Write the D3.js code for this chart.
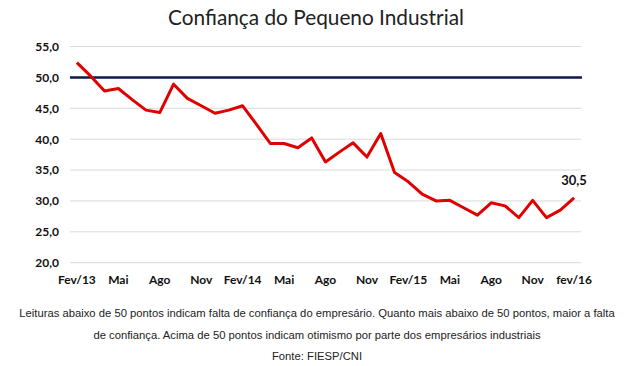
<!DOCTYPE html>
<html><head><meta charset="utf-8">
<script src="https://cdn.jsdelivr.net/npm/d3@7"></script>
<style>body{margin:0;background:#fff}svg{display:block}</style>
</head><body>
<script>
const months = ["Fev/13","Mar/13","Abr/13","Mai/13","Jun/13","Jul/13","Ago/13","Set/13","Out/13","Nov/13","Dez/13","Jan/14",
 "Fev/14","Mar/14","Abr/14","Mai/14","Jun/14","Jul/14","Ago/14","Set/14","Out/14","Nov/14","Dez/14","Jan/15",
 "Fev/15","Mar/15","Abr/15","Mai/15","Jun/15","Jul/15","Ago/15","Set/15","Out/15","Nov/15","Dez/15","Jan/16","fev/16"];
const tickLabels = ["Fev/13","Mai","Ago","Nov","Fev/14","Mai","Ago","Nov","Fev/15","Mai","Ago","Nov","fev/16"];
const values = [52.4,50.2,47.8,48.2,46.4,44.7,44.3,48.9,46.6,45.4,44.2,44.7,
 45.4,42.4,39.3,39.3,38.6,40.2,36.3,37.9,39.4,37.1,40.9,34.6,
 33.1,31.1,30.0,30.1,28.9,27.7,29.7,29.2,27.3,30.1,27.3,28.5,30.5];
const reference = [50,50];
const yTicks = [20,25,30,35,40,45,50,55];
const title = "Confiança do Pequeno Industrial";
const notes = ["Leituras abaixo de 50 pontos indicam falta de confiança do empresário. Quanto mais abaixo de 50 pontos, maior a falta",
 "de confiança. Acima de 50 pontos indicam otimismo por parte dos empresários industriais",
 "Fonte: FIESP/CNI"];

const W=640,H=366;
const svg=d3.select("body").append("svg").attr("width",W).attr("height",H);
const x=d3.scaleBand().domain(months).range([70,581]);
const y=d3.scaleLinear().domain([20,55]).range([262.7,46.5]);
const fmt=v=>d3.format(".1f")(v).replace(".",",");

svg.append("text").attr("x",316).attr("y",25).attr("text-anchor","middle")
 .attr("font-family","Lato, 'Open Sans', sans-serif").attr("font-size",20.8).attr("fill","#222").text(title);

svg.append("g").selectAll("line").data(yTicks).join("line")
 .attr("x1",70).attr("x2",581).attr("y1",d=>y(d)).attr("y2",d=>y(d))
 .attr("stroke","#d9d9d9").attr("stroke-width",1);

const ya=svg.append("g").attr("transform","translate(62,0)")
 .call(d3.axisLeft(y).tickValues(yTicks).tickSize(0).tickFormat(fmt));
ya.select(".domain").remove();
ya.selectAll("text").attr("font-family","Lato, sans-serif").attr("font-weight","bold").attr("font-size",12).attr("fill","#111");

const tickMonths = months.filter((m,i)=>i%3===0);
const xa=svg.append("g").attr("transform","translate(0,272)")
 .call(d3.axisBottom(x).tickValues(tickMonths).tickSize(0).tickFormat((d,i)=>tickLabels[i]));
xa.select(".domain").remove();
xa.selectAll("text").attr("font-family","Lato, sans-serif").attr("font-weight","bold").attr("font-size",12).attr("fill","#111");

svg.append("line").attr("x1",70).attr("x2",582).attr("y1",y(reference[0])).attr("y2",y(reference[1]))
 .attr("stroke","#0b1a4a").attr("stroke-width",2.5);

const line=d3.line().x((d,i)=>x(months[i])+x.bandwidth()/2).y(d=>y(d));
svg.append("path").datum(values).attr("d",line).attr("fill","none")
 .attr("stroke","#e00000").attr("stroke-width",3).attr("stroke-linejoin","round");

const last=values.length-1;
svg.append("text").attr("x",x(months[last])+x.bandwidth()/2).attr("y",y(values[last])-13)
 .attr("text-anchor","middle").attr("font-family","Lato, sans-serif").attr("font-weight","bold")
 .attr("font-size",13).attr("fill","#111").text(fmt(values[last]));

svg.append("g").selectAll("text").data(notes).join("text")
 .attr("x",317).attr("y",(d,i)=>[317,339,360][i]).attr("text-anchor","middle")
 .attr("font-family","'Liberation Sans', Arial, sans-serif").attr("font-size",11.25).attr("fill","#222")
 .text(d=>d);
</script>
</body></html>
